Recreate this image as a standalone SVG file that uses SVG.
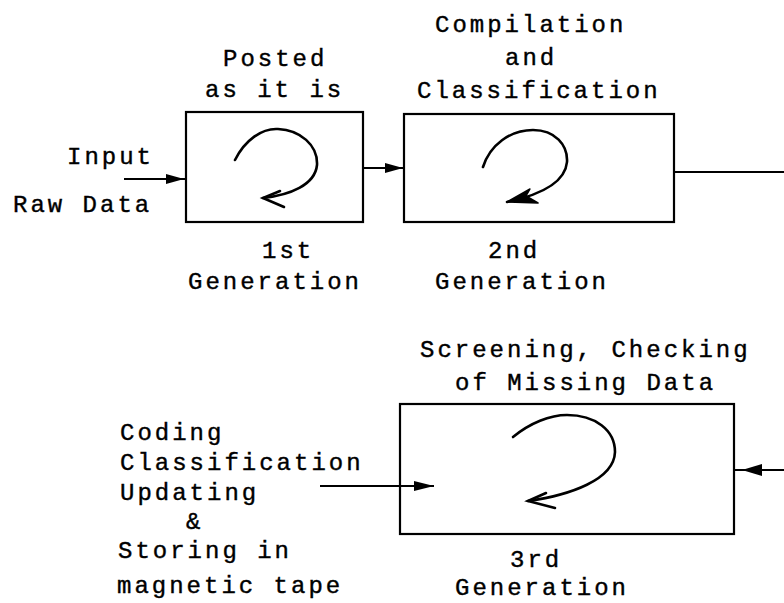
<svg xmlns="http://www.w3.org/2000/svg" width="784" height="603" viewBox="0 0 784 603">
  <style>
    .lbl { font-family: "Liberation Mono", "DejaVu Sans Mono", monospace; font-size: 24px; letter-spacing: 3px; fill: #000; stroke: #000; stroke-width: 0.4; }
    .box { fill: #fff; stroke: #000; stroke-width: 2.2; }
    .conn { fill: none; stroke: #000; stroke-width: 2; }
    .curl { fill: none; stroke: #000; stroke-width: 2.6; stroke-linecap: round; }
  </style>
  <rect width="784" height="603" fill="#fff"/>

  <!-- 1st generation -->
  <g id="gen1">
    <rect class="box" x="186" y="112" width="177" height="110"/>
    <path class="curl" d="M235,160 C245,140 262,128 278,129 C300,130 318,145 317,165 C315,185 290,195 263,198"/>
    <path class="curl" d="M280,191 L263,198 L284,207"/>
    <text class="lbl" x="223" y="66">Posted</text>
    <text class="lbl" x="205" y="97">as it is</text>
    <text class="lbl" x="262" y="258">1st</text>
    <text class="lbl" x="188" y="289">Generation</text>
  </g>

  <!-- 2nd generation -->
  <g id="gen2">
    <rect class="box" x="404" y="114" width="270" height="108"/>
    <path class="curl" d="M483,167 C490,145 510,130 533,130 C555,130 568,145 567,162 C565,185 535,196 507,202"/>
    <path d="M507,202 L530,189 L526,196 L538,203 Z" fill="#000" stroke="#000" stroke-width="1.5" stroke-linejoin="round"/>
    <text class="lbl" x="435" y="32">Compilation</text>
    <text class="lbl" x="505" y="65">and</text>
    <text class="lbl" x="417" y="98">Classification</text>
    <text class="lbl" x="488" y="258">2nd</text>
    <text class="lbl" x="435" y="289">Generation</text>
  </g>

  <!-- 3rd generation -->
  <g id="gen3">
    <rect class="box" x="400" y="404" width="334" height="130"/>
    <path class="curl" d="M513,437 C530,423 550,415 567,415 C595,415 615,430 615,452 C614,480 570,495 528,501"/>
    <path class="curl" d="M546,493 L528,501 L555,508"/>
    <text class="lbl" x="420" y="357">Screening, Checking</text>
    <text class="lbl" x="455" y="390">of Missing Data</text>
    <text class="lbl" x="510" y="567">3rd</text>
    <text class="lbl" x="455" y="595">Generation</text>
  </g>

  <!-- inputs -->
  <g id="raw-input">
    <text class="lbl" x="67" y="164">Input</text>
    <text class="lbl" x="13" y="212">Raw Data</text>
  </g>
  <g id="coding-input">
    <text class="lbl" x="120" y="440">Coding</text>
    <text class="lbl" x="120" y="470">Classification</text>
    <text class="lbl" x="120" y="500">Updating</text>
    <text class="lbl" x="186" y="529">&amp;</text>
    <text class="lbl" x="118" y="558">Storing in</text>
    <text class="lbl" x="117" y="593">magnetic tape</text>
  </g>

  <!-- connectors -->
  <g id="connectors">
    <line class="conn" x1="124" y1="179" x2="186" y2="179"/>
    <path d="M166,174 L184,179 L166,184 Z" fill="#000"/>
    <line class="conn" x1="363" y1="168" x2="404" y2="168"/>
    <path d="M385,163 L403,168 L385,173 Z" fill="#000"/>
    <line class="conn" x1="674" y1="172" x2="784" y2="172"/>
    <line class="conn" x1="784" y1="470" x2="734" y2="470"/>
    <path d="M762,464 L742,470 L762,476 Z" fill="#000"/>
    <line class="conn" x1="320" y1="486" x2="434" y2="486"/>
    <path d="M414,481 L434,486 L414,491 Z" fill="#000"/>
  </g>
</svg>
